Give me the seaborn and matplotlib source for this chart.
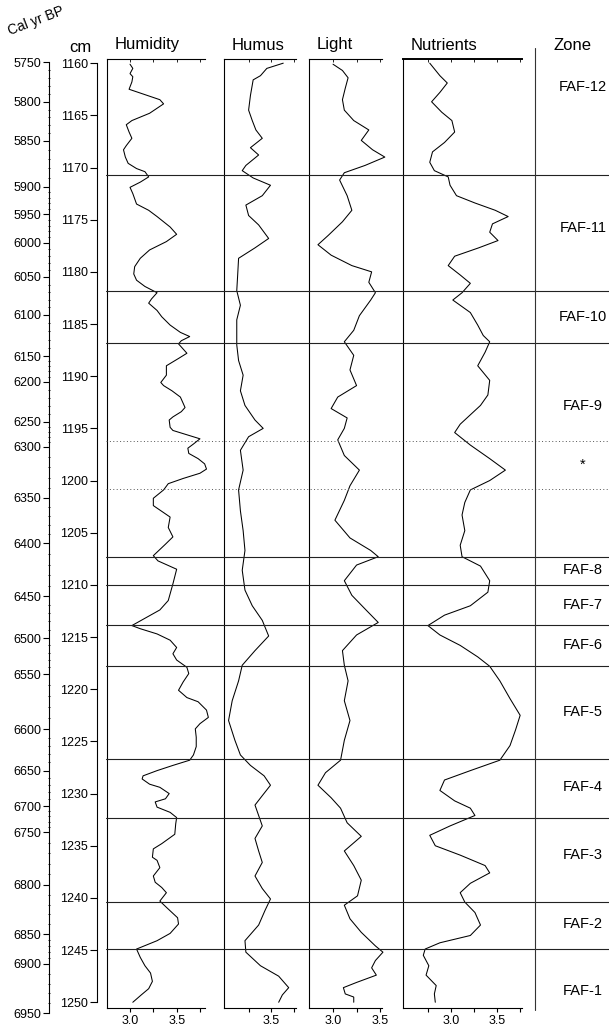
import numpy as np
import matplotlib
matplotlib.use("Agg")
import matplotlib.pyplot as plt
import seaborn as sns

# ---- data ----
depth_ticks = list(range(1160, 1251, 5))

# age-depth calibration: each age tick and the depth (cm) it sits at
ages = [5750, 5800, 5850, 5900, 5950, 6000, 6050, 6100, 6150, 6200, 6250, 6300,
        6350, 6400, 6450, 6500, 6550, 6600, 6650, 6700, 6750, 6800, 6850, 6900, 6950]
age_depths = [1159.9, 1163.7, 1167.45, 1171.85, 1174.5, 1177.2, 1180.5, 1184.15,
              1188.1, 1190.55, 1194.4, 1196.8, 1201.7, 1206.05, 1211.15, 1215.15,
              1218.6, 1223.9, 1227.85, 1231.25, 1233.75, 1238.8, 1243.55, 1246.4, 1251.1]

humidity_depth = [
    1160.1, 1160.5, 1161.0, 1161.3, 1161.8, 1162.5, 1163.5, 1163.9, 1164.8, 1165.5, 1165.9,
    1166.6, 1167.2, 1167.9, 1168.3, 1169.0, 1169.6, 1170.1, 1170.4, 1170.9, 1171.4,
    1171.9, 1172.5, 1173.5, 1174.1, 1174.7, 1175.7, 1176.4, 1177.1, 1177.9, 1178.7,
    1179.5, 1180.2, 1180.8, 1181.4, 1182.0, 1182.6, 1183.0, 1183.7, 1184.3, 1185.1,
    1185.8, 1186.2, 1186.6, 1186.9, 1187.4, 1187.8, 1188.3, 1189.0, 1189.9, 1190.6,
    1190.9, 1191.4, 1192.0, 1193.0, 1193.4, 1193.9, 1194.2, 1194.9, 1195.2, 1195.7,
    1196.0, 1196.5, 1196.9, 1197.4, 1197.9, 1198.4, 1198.9, 1199.3, 1199.8, 1200.3,
    1200.9, 1201.7,
    1202.4, 1203.5, 1204.5, 1205.4, 1206.1, 1207.2, 1207.7, 1208.5, 1209.9, 1211.5,
    1212.4, 1213.1, 1213.9, 1214.2, 1214.7, 1215.3, 1216.0, 1216.6, 1217.2, 1217.9,
    1218.5, 1219.3, 1220.1, 1220.8, 1221.2, 1222.0, 1222.7, 1223.3, 1223.8, 1224.6,
    1225.5, 1226.3, 1226.8, 1227.3, 1227.8, 1228.3, 1228.6, 1229.1, 1229.4, 1230.0,
    1230.5, 1230.8, 1231.3, 1231.8, 1232.3, 1232.9, 1233.9, 1234.8, 1235.3, 1236.1,
    1236.4, 1237.1, 1237.9, 1238.5, 1239.0, 1239.5, 1240.3, 1240.9, 1241.9, 1242.5,
    1243.4, 1244.1, 1244.9, 1245.7, 1246.5, 1247.2, 1248.0, 1248.7, 1249.3, 1250.0]
humidity = [
    3.00, 3.03, 3.00, 3.03, 3.02, 2.99, 3.32, 3.36, 3.21, 3.02, 2.96,
    2.99, 3.02, 2.96, 2.93, 2.95, 2.98, 3.07, 3.16, 3.20, 3.11,
    3.00, 3.03, 3.07, 3.20, 3.29, 3.43, 3.50, 3.39, 3.21, 3.11,
    3.05, 3.04, 3.07, 3.16, 3.29, 3.23, 3.20, 3.29, 3.34, 3.43,
    3.54, 3.64, 3.55, 3.52, 3.57, 3.61, 3.52, 3.39, 3.39, 3.33,
    3.36, 3.45, 3.54, 3.59, 3.55, 3.46, 3.42, 3.43, 3.46, 3.64,
    3.75, 3.68, 3.62, 3.63, 3.73, 3.80, 3.82, 3.75, 3.57, 3.41,
    3.36, 3.25,
    3.25, 3.43, 3.41, 3.46, 3.38, 3.25, 3.30, 3.50, 3.46, 3.41,
    3.32, 3.18, 3.02, 3.11, 3.29, 3.43, 3.50, 3.46, 3.50, 3.61,
    3.63, 3.57, 3.52, 3.61, 3.73, 3.82, 3.84, 3.75, 3.70, 3.71,
    3.71, 3.68, 3.64, 3.46, 3.29, 3.14, 3.13, 3.21, 3.32, 3.42,
    3.38, 3.27, 3.29, 3.43, 3.50, 3.49, 3.48, 3.34, 3.25, 3.24,
    3.29, 3.32, 3.25, 3.27, 3.34, 3.39, 3.32, 3.39, 3.51, 3.52,
    3.43, 3.29, 3.07, 3.11, 3.16, 3.22, 3.24, 3.20, 3.12, 3.03]

humus_depth = [
    1160.0, 1160.5, 1161.2, 1161.6, 1163.1, 1164.5, 1165.5, 1166.4, 1167.2, 1168.1,
    1168.8, 1169.8, 1170.3, 1171.0, 1171.7, 1172.7, 1173.6, 1174.6, 1175.5, 1176.8,
    1177.7, 1178.7, 1180.3, 1181.8, 1183.2, 1184.6, 1187.0, 1188.5, 1189.9, 1191.4,
    1192.8, 1194.2, 1195.0, 1195.8, 1197.1, 1199.0, 1200.9, 1202.9, 1204.8, 1206.7,
    1208.6, 1210.5, 1212.0, 1213.4, 1214.9, 1216.3, 1217.7, 1219.2, 1221.1, 1223.0,
    1224.9, 1226.3, 1227.3, 1228.3, 1229.2, 1230.2, 1231.1, 1232.1, 1233.1, 1234.3,
    1235.5, 1236.6, 1237.9, 1239.1, 1240.1, 1241.2, 1242.6, 1244.1, 1245.2, 1246.5,
    1247.5, 1248.6, 1249.3, 1250.0]
humus = [
    3.63, 3.45, 3.38, 3.30, 3.27, 3.25, 3.29, 3.33, 3.40, 3.27,
    3.36, 3.22, 3.18, 3.30, 3.49, 3.40, 3.22, 3.25, 3.36, 3.47,
    3.32, 3.14, 3.13, 3.12, 3.16, 3.12, 3.12, 3.14, 3.19, 3.16,
    3.21, 3.32, 3.41, 3.25, 3.16, 3.19, 3.14, 3.16, 3.19, 3.21,
    3.18, 3.21, 3.29, 3.40, 3.47, 3.32, 3.18, 3.14, 3.07, 3.03,
    3.10, 3.16, 3.27, 3.42, 3.49, 3.40, 3.32, 3.36, 3.40, 3.32,
    3.36, 3.40, 3.32, 3.40, 3.49, 3.43, 3.36, 3.21, 3.22, 3.38,
    3.58, 3.69, 3.62, 3.58]

light_depth = [
    1160.1, 1160.7, 1161.4, 1162.4, 1163.5, 1164.5, 1165.5, 1166.4, 1167.4, 1168.3,
    1169.0, 1169.8, 1170.5, 1171.2, 1172.7, 1174.1, 1175.2, 1176.5, 1177.4, 1178.4,
    1179.4, 1180.0, 1181.0, 1182.0, 1182.7, 1184.2, 1185.6, 1186.7, 1188.0, 1189.4,
    1190.9, 1192.0, 1193.1, 1194.0, 1195.0, 1196.1, 1197.6, 1199.0, 1200.5, 1201.9,
    1203.8, 1205.5, 1206.7, 1207.3, 1208.1, 1209.6, 1211.0, 1212.4, 1213.6, 1214.8,
    1216.3, 1217.7, 1219.2, 1221.1, 1223.0, 1224.9, 1226.8, 1228.0, 1229.2, 1230.4,
    1231.4, 1232.8, 1234.1, 1235.5, 1236.9, 1238.3, 1239.8, 1240.7, 1242.0, 1243.3,
    1244.6, 1245.2, 1246.0, 1246.7, 1247.4, 1248.1, 1248.6, 1249.2, 1249.5, 1250.0]
light = [
    3.00, 3.10, 3.16, 3.13, 3.10, 3.12, 3.22, 3.38, 3.30, 3.42,
    3.55, 3.34, 3.12, 3.07, 3.15, 3.20, 3.10, 2.95, 2.84, 2.98,
    3.20, 3.41, 3.38, 3.45, 3.40, 3.28, 3.22, 3.12, 3.22, 3.18,
    3.25, 3.05, 2.98, 3.15, 3.12, 3.05, 3.12, 3.28, 3.18, 3.12,
    3.02, 3.18, 3.40, 3.48, 3.25, 3.12, 3.20, 3.35, 3.48, 3.25,
    3.10, 3.12, 3.16, 3.12, 3.18, 3.12, 3.08, 2.92, 2.84, 2.98,
    3.08, 3.15, 3.30, 3.12, 3.22, 3.30, 3.26, 3.12, 3.18, 3.30,
    3.45, 3.53, 3.45, 3.41, 3.46, 3.25, 3.11, 3.13, 3.22, 3.22]

nutrients_depth = [
    1160.0, 1161.2, 1161.9, 1162.8, 1163.7, 1164.7, 1165.5, 1166.6, 1167.6, 1168.5,
    1169.5, 1170.3, 1170.9, 1171.7, 1172.7, 1173.4, 1174.1, 1174.7, 1175.4, 1176.2,
    1177.0, 1177.7, 1178.5, 1179.4, 1180.3, 1181.1, 1182.0, 1182.7, 1183.9, 1185.1,
    1186.1, 1186.7, 1187.7, 1189.0, 1190.4, 1191.8, 1192.8, 1193.7, 1194.6, 1195.4,
    1196.6, 1197.9, 1199.0, 1200.0, 1200.9, 1202.1, 1203.3, 1204.8, 1206.2, 1207.3,
    1208.2, 1209.6, 1210.7, 1212.0, 1212.9, 1213.9, 1214.8, 1215.8, 1216.9, 1217.8,
    1219.2, 1220.9, 1222.5, 1223.9, 1225.4, 1226.8, 1227.8, 1228.7, 1229.7, 1230.7,
    1231.4, 1232.1, 1233.1, 1234.0, 1235.0, 1235.9, 1236.9, 1237.6, 1238.6, 1239.5,
    1240.4, 1241.4, 1242.6, 1243.6, 1244.3, 1244.9, 1245.5, 1246.5, 1247.4, 1248.4,
    1249.2, 1250.0]
nutrients = [
    2.77, 2.88, 2.96, 2.88, 2.79, 2.90, 3.01, 3.04, 2.93, 2.80,
    2.77, 2.82, 2.97, 2.99, 3.06, 3.26, 3.48, 3.62, 3.45, 3.42,
    3.51, 3.30, 3.04, 2.97, 3.10, 3.21, 3.12, 3.02, 3.21, 3.29,
    3.35, 3.42, 3.37, 3.29, 3.42, 3.40, 3.32, 3.21, 3.10, 3.04,
    3.21, 3.42, 3.59, 3.42, 3.21, 3.15, 3.12, 3.15, 3.10, 3.12,
    3.32, 3.42, 3.40, 3.21, 2.93, 2.75, 2.88, 3.10, 3.29, 3.42,
    3.53, 3.64, 3.75, 3.70, 3.64, 3.53, 3.21, 2.93, 2.88, 3.04,
    3.21, 3.26, 2.99, 2.77, 2.83, 3.10, 3.37, 3.42, 3.21, 3.10,
    3.15, 3.26, 3.32, 3.21, 2.88, 2.72, 2.70, 2.76, 2.73, 2.84,
    2.82, 2.83]

zone_bounds = [1170.7, 1181.8, 1186.8, 1207.3, 1210.0, 1213.8, 1217.8,
               1226.7, 1232.3, 1240.4, 1244.9]
dotted_bounds = [1196.2, 1200.8]
zone_names = ["FAF-12", "FAF-11", "FAF-10", "FAF-9", "*", "FAF-8", "FAF-7",
              "FAF-6", "FAF-5", "FAF-4", "FAF-3", "FAF-2", "FAF-1"]
zone_label_depths = [1162.3, 1175.8, 1184.3, 1192.9, 1198.5, 1208.6, 1211.9,
                     1215.8, 1222.2, 1229.4, 1235.9, 1242.5, 1248.9]

# ---- figure ----
sns.set_theme(style="ticks")
plt.rcParams["font.family"] = ["Liberation Sans", "DejaVu Sans"]
plt.rcParams.update({
    "axes.linewidth": 0.8,
    "axes.edgecolor": "black",
    "text.color": "black",
    "xtick.color": "black",
    "ytick.color": "black",
    "xtick.labelcolor": "black",
    "ytick.labelcolor": "black",
})

W, H = 610, 1026
fig = plt.figure(figsize=(W / 100, H / 100), dpi=100)


def px_axes(left, right, top, bottom):
    ax = fig.add_axes([left / W, 1 - bottom / H, (right - left) / W, (bottom - top) / H])
    ax.patch.set_visible(False)
    return ax


TOP, BOT = 59, 1008
YLIM = (1250.55, 1159.6)
TICK_FS = 9
HEAD_FS = 12

# age axis (non-linear, calibrated against depth)
ax_age = px_axes(49, 50, TOP, 1013)
ax_age.set_ylim(1251.07, 1159.6)
for s in ["top", "right", "bottom"]:
    ax_age.spines[s].set_visible(False)
ax_age.spines["left"].set_bounds(age_depths[0], age_depths[-1])
ax_age.set_xticks([])
ax_age.set_yticks(age_depths)
ax_age.set_yticklabels([str(a) for a in ages], fontsize=TICK_FS)
minor_ages = [a for a in range(5750, 6951, 10) if a % 50]
ax_age.set_yticks(np.interp(minor_ages, ages, age_depths), minor=True)
ax_age.tick_params(axis="y", which="major", length=4, width=0.8, pad=1.5)
ax_age.tick_params(axis="y", which="minor", length=2, width=0.6, direction="inout")

# depth axis
ax_cm = px_axes(97, 98, TOP, BOT)
ax_cm.set_ylim(*YLIM)
for s in ["top", "right", "bottom"]:
    ax_cm.spines[s].set_visible(False)
ax_cm.spines["left"].set_bounds(1160, 1250)
ax_cm.set_xticks([])
ax_cm.set_yticks(depth_ticks)
ax_cm.set_yticklabels([str(d) for d in depth_ticks], fontsize=TICK_FS)
ax_cm.tick_params(axis="y", length=5, width=0.8, pad=1.5)

panels = [
    ("Humidity", 106.7, 205, (2.75, 3.804), [3.0, 3.5], [3.25, 3.75], humidity_depth, humidity, 0.8),
    ("Humus", 224, 296, (2.98, 3.77), [3.5], [3.25, 3.75], humus_depth, humus, 0.8),
    ("Light", 309, 382, (2.745, 3.52), [3.0, 3.5], [3.25], light_depth, light, 0.8),
    ("Nutrients", 403, 522, (2.48, 3.77), [3.0, 3.5], [2.75, 3.25, 3.75], nutrients_depth, nutrients, 1.4),
]

for name, left, right, xlim, major, minor, depth, vals, top_lw in panels:
    ax = px_axes(left, right, TOP, BOT)
    sns.lineplot(x=vals, y=depth, orient="y", sort=False, estimator=None,
                 color="black", linewidth=0.75, ax=ax)
    ax.lines[-1].set_clip_on(False)
    ax.set_xlim(*xlim)
    ax.set_ylim(*YLIM)
    ax.set_xlabel("")
    ax.set_ylabel("")
    ax.set_yticks([])
    ax.spines["right"].set_visible(False)
    ax.spines["top"].set_visible(False)
    ax.set_xticks(major)
    ax.set_xticklabels([f"{m:.1f}" for m in major], fontsize=TICK_FS)
    ax.set_xticks(minor, minor=True)
    ax.tick_params(axis="x", which="both", length=3, width=0.8, pad=2)
    top = ax.secondary_xaxis("top")
    top.set_xticks(major + minor)
    top.set_xticklabels([])
    top.tick_params(axis="x", direction="in", length=2, width=0.6)
    top.spines["top"].set_linewidth(top_lw)
    fig.text((left + 8) / W, 1 - 45 / H, name, fontsize=HEAD_FS, ha="left", va="center")

fig.text(80 / W, 1 - 47 / H, "cm", fontsize=HEAD_FS, ha="center", va="center")
fig.text(36 / W, 1 - 21 / H, "Cal yr BP", fontsize=10, ha="center", va="center",
         rotation=21)
fig.text(572 / W, 1 - 46 / H, "Zone", fontsize=HEAD_FS, ha="center", va="center")

# zone boundaries, labels and the zone column
ax_z = px_axes(106, 609, TOP, BOT)
ax_z.set_ylim(*YLIM)
ax_z.set_xlim(0, 1)
ax_z.axis("off")
for b in zone_bounds:
    ax_z.axhline(b, color="#222222", linewidth=0.8)
for b in dotted_bounds:
    ax_z.axhline(b, color="#555555", linewidth=0.7, linestyle=(0, (1, 2.5)))
zone_x = (535 - 106) / (609 - 106)
ax_z.axvline(zone_x, ymin=-0.002, ymax=1.0116, color="#333333", linewidth=0.8,
             clip_on=False)
label_x = (583 - 106) / (609 - 106)
for name, d in zip(zone_names, zone_label_depths):
    ax_z.text(label_x, d, name, transform=ax_z.get_yaxis_transform(),
              ha="center", va="center", fontsize=10.5)

fig.savefig("out.png", dpi=100)
